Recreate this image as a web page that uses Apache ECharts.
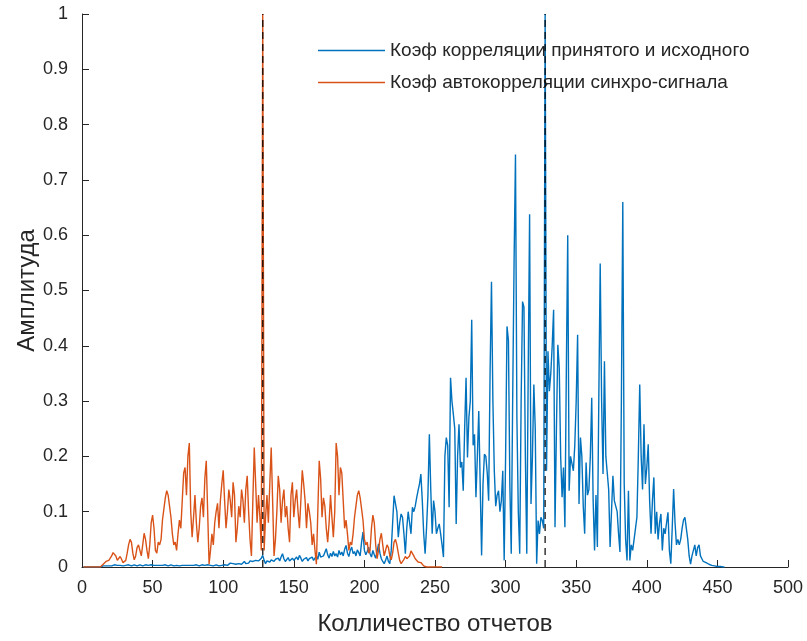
<!DOCTYPE html>
<html>
<head>
<meta charset="utf-8">
<script src="https://cdn.jsdelivr.net/npm/echarts@6/dist/echarts.min.js"></script>
<style>
html,body{margin:0;padding:0;background:#fff;}
#chart{width:807px;height:641px;}
</style>
</head>
<body>
<div id="chart"></div>
<script>
// Sample index starts at 1 for both series
const seriesNames = ['Коэф корреляции принятого и исходного', 'Коэф автокорреляции синхро-сигнала'];
const xTicks = [0, 50, 100, 150, 200, 250, 300, 350, 400, 450, 500];
const yTicks = [0, 0.1, 0.2, 0.3, 0.4, 0.5, 0.6, 0.7, 0.8, 0.9, 1];
const peakPositions = [128, 328];

// Blue: correlation of received and original (x = 1..455)
const blueValues = [
0,0,0,0,0,0,0,0,0,0,
0,0,0,0.001,0.002,0.003,0.002,0.003,0.002,0.003,
0.002,0.003,0.004,0.002,0.003,0.002,0.003,0.004,0.002,0.003,
0.003,0.002,0.004,0.003,0.002,0.003,0.004,0.003,0.002,0.003,
0.004,0.003,0.002,0.003,0.004,0.002,0.003,0.003,0.004,0.002,
0.003,0.004,0.003,0.002,0.003,0.004,0.003,0.002,0.004,0.003,
0.002,0.003,0.004,0.003,0.002,0.004,0.003,0.003,0.002,0.004,
0.003,0.002,0.003,0.004,0.003,0.002,0.003,0.004,0.003,0.002,
0.004,0.003,0.002,0.003,0.004,0.003,0.003,0.002,0.004,0.003,
0.003,0.004,0.002,0.003,0.004,0.003,0.002,0.004,0.003,0.005,
0.004,0.006,0.003,0.005,0.007,0.004,0.006,0.008,0.005,0.007,
0.006,0.009,0.005,0.008,0.01,0.006,0.009,0.007,0.011,0.008,
0.01,0.007,0.012,0.009,0.011,0.008,0.016,0.021,0.012,0.006,
0.011,0.014,0.009,0.013,0.015,0.01,0.014,0.012,0.016,0.011,
0.018,0.024,0.015,0.01,0.013,0.017,0.011,0.014,0.016,0.012,
0.015,0.018,0.013,0.021,0.016,0.01,0.014,0.012,0.017,0.011,
0.015,0.013,0.018,0.012,0.016,0.02,0.014,0.027,0.018,0.015,
0.02,0.017,0.033,0.022,0.016,0.025,0.019,0.028,0.02,0.024,
0.018,0.03,0.022,0.027,0.02,0.032,0.039,0.025,0.019,0.03,
0.036,0.024,0.028,0.02,0.031,0.026,0.02,0.045,0.063,0.03,
0.022,0.028,0.036,0.024,0.018,0.03,0.022,0.016,0.028,0.042,
0.025,0.015,0.01,0.006,0.012,0.02,0.01,0.006,0.03,0.08,
0.129,0.132,0.1,0.054,0.08,0.096,0.09,0.06,0.024,0.07,
0.1,0.08,0.06,0.108,0.1,0.11,0.125,0.138,0.15,0.168,
0.12,0.06,0.024,0.07,0.13,0.24,0.14,0.06,0.12,0.1,
0.06,0.07,0.078,0.06,0.04,0.018,0.2,0.234,0.22,0.108,
0.342,0.3,0.276,0.25,0.078,0.2,0.258,0.18,0.19,0.138,
0.25,0.342,0.198,0.27,0.3,0.447,0.22,0.24,0.126,0.2,
0.282,0.15,0.021,0.15,0.204,0.2,0.17,0.12,0.35,0.516,
0.3,0.174,0.11,0.13,0.138,0.1,0.12,0.174,0.012,0.2,
0.435,0.41,0.15,0.024,0.3,0.55,0.746,0.27,0.1,0.024,
0.3,0.48,0.47,0.2,0.024,0.35,0.638,0.114,0.2,0.33,
0.25,0.006,0.084,0.06,0.09,0.084,0.07,1,0.174,0.39,
0.318,0.35,0.4,0.465,0.072,0.25,0.402,0.36,0.2,0.126,
0.18,0.072,0.35,0.6,0.138,0.2,0.2,0.174,0.22,0.3,
0.42,0.114,0.234,0.2,0.11,0.06,0.189,0.13,0.14,0.2,
0.306,0.12,0.03,0.13,0.036,0.3,0.549,0.3,0.168,0.372,
0.2,0.17,0.14,0.036,0.1,0.165,0.12,0.11,0.1,0.06,
0.027,0.3,0.66,0.15,0.05,0.012,0.138,0.012,0.04,0.03,
0.05,0.07,0.09,0.2,0.33,0.2,0.14,0.258,0.15,0.18,
0.222,0.12,0.06,0.12,0.162,0.06,0.1,0.05,0.08,0.096,
0.03,0.07,0.06,0.08,0.099,0.03,0.006,0.07,0.141,0.08,
0.04,0.05,0.04,0.05,0.07,0.085,0.09,0.07,0.05,0.02,
0.005,0.02,0.03,0.04,0.02,0.035,0.04,0.02,0.015,0.01,
0.012,0.008,0.01,0.005,0.006,0.003,0.004,0.002,0.002,0.001,
0.001,0.001,0,0,0
];

// Orange: autocorrelation of sync signal (x = 1..255)
const orangeValues = [
0,0,0,0,0,0,0,0,0,0,
0,0,0,0.002,0.005,0.008,0.01,0.009,0.012,0.015,
0.02,0.026,0.029,0.02,0.012,0.015,0.019,0.014,0.008,0.006,
0.012,0.025,0.04,0.05,0.045,0.025,0.013,0.02,0.035,0.04,
0.03,0.02,0.04,0.061,0.05,0.03,0.015,0.04,0.08,0.094,
0.07,0.03,0.025,0.045,0.04,0.05,0.085,0.105,0.125,0.138,
0.13,0.11,0.09,0.06,0.04,0.045,0.03,0.06,0.085,0.07,
0.12,0.17,0.18,0.13,0.2,0.224,0.1,0.054,0.09,0.13,
0.08,0.045,0.07,0.11,0.125,0.09,0.16,0.192,0.1,0.005,
0.03,0.06,0.04,0.08,0.1,0.115,0.07,0.12,0.15,0.175,
0.12,0.07,0.1,0.14,0.12,0.09,0.153,0.13,0.045,0.07,
0.11,0.09,0.14,0.12,0.08,0.14,0.165,0.1,0.05,0.02,
0.12,0.216,0.15,0.08,0.13,0.09,0.03,1,
0.03,0.09,0.13,0.08,0.15,0.216,0.12,
0.02,0.05,0.1,0.165,0.14,0.08,0.12,0.14,0.09,0.11,
0.07,0.045,0.13,0.153,0.09,0.12,0.14,0.1,0.07,0.12,
0.175,0.15,0.12,0.07,0.115,0.1,0.08,0.04,0.06,0.03,
0.005,0.1,0.192,0.16,0.09,0.125,0.11,0.07,0.045,0.08,
0.13,0.09,0.054,0.1,0.224,0.2,0.13,0.18,0.17,0.12,
0.07,0.085,0.06,0.03,0.045,0.04,0.06,0.09,0.11,0.13,
0.138,0.125,0.105,0.085,0.05,0.04,0.045,0.025,0.03,0.07,
0.094,0.08,0.04,0.015,0.03,0.05,0.061,0.04,0.02,0.03,
0.04,0.035,0.02,0.013,0.025,0.045,0.05,0.04,0.025,0.012,
0.006,0.008,0.014,0.019,0.015,0.012,0.02,0.029,0.026,0.02,
0.015,0.012,0.009,0.01,0.008,0.005,0.002,0,0,0,
0,0,0,0,0,0,0,0,0,0
];

const blueData = blueValues.map((v, i) => [i + 1, v]);
const orangeData = orangeValues.map((v, i) => [i + 1, v]);

const txt = '#262626';
const fontFam = '"Liberation Sans", Arial, sans-serif';

const dashSeries = peakPositions.map(p => ({
  type: 'line',
  data: [[p, yTicks[0]], [p, yTicks[yTicks.length - 1]]],
  symbol: 'none',
  silent: true,
  z: 5,
  lineStyle: { color: 'rgba(0,0,0,0.8)', width: 1.5, type: [7, 5] }
}));

const chart = echarts.init(document.getElementById('chart'), null, { renderer: 'canvas' });
chart.setOption({
  animation: false,
  backgroundColor: '#fff',
  grid: { left: 82, right: 19, top: 14, bottom: 71, containLabel: false },
  legend: {
    data: seriesNames,
    orient: 'vertical',
    left: 318,
    top: 41,
    padding: 0,
    icon: 'rect',
    itemWidth: 67,
    itemHeight: 1.6,
    itemGap: 13,
    textStyle: { fontSize: 19, color: txt, fontFamily: fontFam }
  },
  xAxis: {
    type: 'value',
    min: xTicks[0],
    max: xTicks[xTicks.length - 1],
    interval: 50,
    name: 'Колличество отчетов',
    nameLocation: 'middle',
    nameGap: 45,
    nameMoveOverlap: false,
    nameTextStyle: { fontSize: 24, color: txt, fontFamily: fontFam },
    axisLine: { lineStyle: { color: txt, width: 1 } },
    axisTick: { inside: true, length: 7, lineStyle: { color: txt } },
    axisLabel: { fontSize: 18, color: txt, fontFamily: fontFam, margin: 12 },
    splitLine: { show: false }
  },
  yAxis: {
    type: 'value',
    min: yTicks[0],
    max: yTicks[yTicks.length - 1],
    interval: 0.1,
    name: 'Амплитуда',
    nameLocation: 'middle',
    nameGap: 43,
    nameMoveOverlap: false,
    nameTextStyle: { fontSize: 24, color: txt, fontFamily: fontFam },
    axisLine: { show: true, lineStyle: { color: txt, width: 1 } },
    axisTick: { show: true, inside: true, length: 7, lineStyle: { color: txt } },
    axisLabel: {
      fontSize: 18, color: txt, fontFamily: fontFam, margin: 14,
      formatter: v => String(Math.round(v * 10) / 10)
    },
    splitLine: { show: false }
  },
  series: [
    {
      name: seriesNames[0],
      type: 'line',
      data: blueData,
      symbol: 'none',
      z: 3,
      lineStyle: { color: '#0072BD', width: 1.4 },
      itemStyle: { color: '#0072BD' }
    },
    {
      name: seriesNames[1],
      type: 'line',
      data: orangeData,
      symbol: 'none',
      z: 4,
      lineStyle: { color: '#D95319', width: 1.4 },
      itemStyle: { color: '#D95319' }
    }
  ].concat(dashSeries)
});
</script>
</body>
</html>
